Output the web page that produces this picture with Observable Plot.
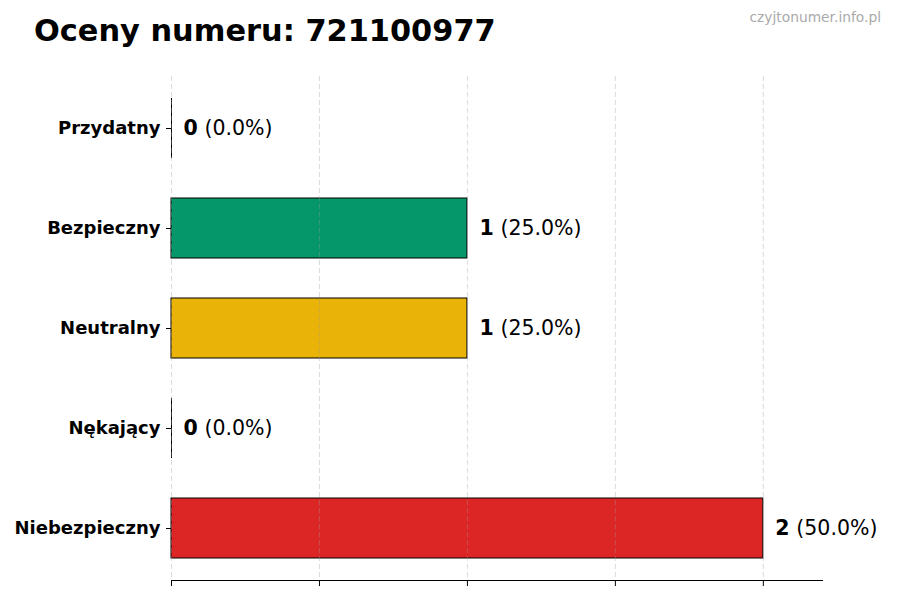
<!DOCTYPE html>
<html>
<head>
<meta charset="utf-8">
<script src="https://cdn.jsdelivr.net/npm/d3@7"></script>
<script src="https://cdn.jsdelivr.net/npm/@observablehq/plot@0.6"></script>
<style>
  html, body { margin: 0; padding: 0; background: #fff; }
  #wrap { width: 900px; height: 600px; position: relative; font-family: "DejaVu Sans", sans-serif; }
  #header { position: relative; height: 60px; }
  #title { position: absolute; left: 34px; top: 13px; font-size: 30.4px; font-weight: bold; color: #000; white-space: nowrap; }
  #wm { position: absolute; right: 19px; top: 9px; font-size: 13.8px; color: #aaaaaa; white-space: nowrap; }
  svg { display: block; }
</style>
</head>
<body>
<div id="wrap">
  <div id="header">
    <div id="title">Oceny numeru: 721100977</div>
    <div id="wm">czyjtonumer.info.pl</div>
  </div>
  <div id="chart"></div>
</div>
<script>
const categories = ["Przydatny", "Bezpieczny", "Neutralny", "Nękający", "Niebezpieczny"];
const counts = [0, 1, 1, 0, 2];
const colors = ["#6b7280", "#059669", "#eab308", "#f97316", "#dc2626"];
const xTicks = [0, 0.5, 1, 1.5, 2];

const total = d3.sum(counts);
const data = categories.map((c, i) => ({
  cat: c,
  n: counts[i],
  color: colors[i],
  pct: "(" + (total ? (counts[i] / total * 100) : 0).toFixed(1) + "%)"
}));

const chart = Plot.plot({
  width: 900,
  height: 540,
  marginTop: 16,
  marginBottom: 20,
  marginLeft: 171,
  marginRight: 78,
  style: { fontFamily: "DejaVu Sans, sans-serif", background: "#fff", color: "#000" },
  x: { domain: [0, 2.2] },
  y: { domain: categories, paddingInner: 0.4, paddingOuter: 0.22 },
  marks: [
    Plot.barX(data, { y: "cat", x: "n", fill: "color", stroke: "#000", strokeWidth: 1 }),
    Plot.tickX(data, { y: "cat", x: "n", filter: d => d.n === 0, stroke: "#000", strokeWidth: 1 }),
    Plot.gridX(xTicks, { stroke: "#999", strokeOpacity: 0.45, strokeDasharray: "5,3", strokeWidth: 0.8 }),
    Plot.frame({ anchor: "bottom", stroke: "#000", strokeWidth: 1 }),
    Plot.axisX(xTicks, { tickSize: 6, tickFormat: () => "", stroke: "#000", label: null }),
    Plot.axisY({ tickSize: 5, tickPadding: 6, fontSize: 18, fontWeight: "bold", label: null, fill: "#000" }),
    Plot.text(data, { y: "cat", x: "n", text: d => String(d.n), dx: 12, textAnchor: "start", fontSize: 20.5, fontWeight: "bold", fill: "#000" }),
    Plot.text(data, { y: "cat", x: "n", text: "pct", dx: 33, textAnchor: "start", fontSize: 20.5, fill: "#000" })
  ]
});
document.getElementById("chart").appendChild(chart);
</script>
</body>
</html>
